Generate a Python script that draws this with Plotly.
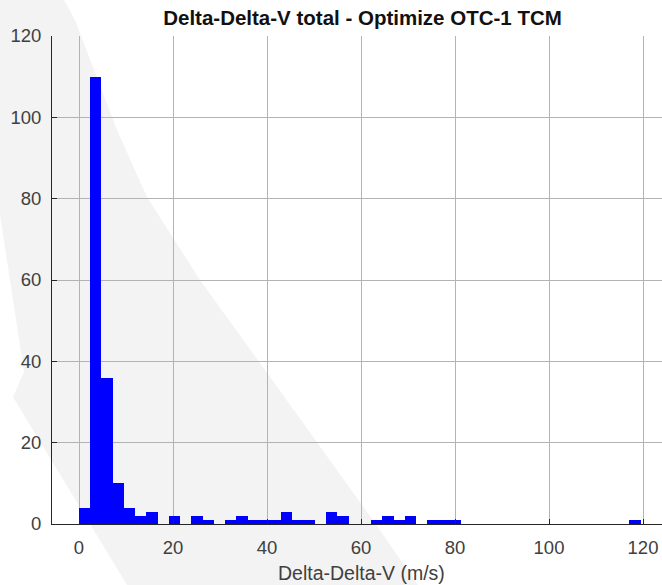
import plotly.graph_objects as go

# Histogram data
bin_start = 0.0
bin_width = 2.39
counts = [4, 110, 36, 10, 4, 2, 3, 0, 2, 0,
          2, 1, 0, 1, 2, 1, 1, 1, 3, 1,
          1, 0, 3, 2, 0, 0, 1, 2, 1, 2,
          0, 1, 1, 1, 0, 0, 0, 0, 0, 0,
          0, 0, 0, 0, 0, 0, 0, 0, 0, 1]
x_ticks = [0, 20, 40, 60, 80, 100, 120]
y_ticks = [0, 20, 40, 60, 80, 100, 120]

title_text = "Delta-Delta-V total - Optimize OTC-1 TCM"
xlabel_text = "Delta-Delta-V (m/s)"

W, H = 662, 585
ML, MR, MT, MB = 52, 0, 36, 61
PW, PH = W - ML - MR, H - MT - MB

lefts = [bin_start + i * bin_width for i in range(len(counts))]

FONT = "Liberation Sans, Arial, Helvetica, sans-serif"

fig = go.Figure()
fig.add_trace(go.Bar(
    x=lefts, y=counts, width=bin_width, offset=0,
    marker=dict(color="#0000ff", line=dict(color="#0000ff", width=0)),
    hoverinfo="skip",
))

# faint diagonal watermark band in the background (pixel outline -> paper coords)
band_px = [(0, 0), (64, 0), (75, 20), (117, 130), (147, 197), (200, 280),
           (260, 363), (375, 523), (418, 585), (127, 585), (13, 397),
           (24, 372), (0, 215)]
def to_paper(px, py):
    return (px - ML) / PW, (H - MB - py) / PH
pts = [to_paper(a, b) for a, b in band_px]
path = "M " + " L ".join(f"{x:.4f},{y:.4f}" for x, y in pts) + " Z"
fig.add_shape(type="path", path=path, xref="paper", yref="paper",
              fillcolor="#f3f3f3", line=dict(width=0), layer="below")

fig.add_annotation(text=xlabel_text, xref="paper", yref="paper",
                   x=(361 - ML) / PW, y=(H - MB - 573) / PH,
                   xanchor="center", yanchor="middle", showarrow=False,
                   font=dict(family=FONT, size=19.5, color="#404040"))

fig.update_layout(
    width=W, height=H,
    margin=dict(l=ML, r=MR, t=MT, b=MB, pad=0),
    paper_bgcolor="white",
    plot_bgcolor="rgba(0,0,0,0)",
    showlegend=False,
    bargap=0,
    title=dict(text="<b>" + title_text + "</b>", x=(362.5 - ML) / PW, xref="paper",
               xanchor="center", y=1 - 18 / H, yref="container", yanchor="middle",
               font=dict(family=FONT, size=20.5, color="#111111")),
    xaxis=dict(range=[(ML - 79) / 4.7, (W - MR - 79) / 4.7],
               tickvals=x_ticks, ticktext=[str(v) for v in x_ticks],
               ticks="inside", ticklen=5, tickcolor="#262626", tickwidth=1,
               showline=True, linecolor="#262626", linewidth=1, mirror=False,
               showgrid=True, gridcolor="#b3b3b3", gridwidth=1,
               zeroline=False, ticklabelstandoff=7,
               tickfont=dict(family=FONT, size=18.5, color="#404040")),
    yaxis=dict(range=[0, 120], tickvals=y_ticks, ticktext=[str(v) for v in y_ticks],
               ticks="inside", ticklen=5, tickcolor="#262626", tickwidth=1,
               showline=True, linecolor="#262626", linewidth=1, mirror=False,
               showgrid=True, gridcolor="#b3b3b3", gridwidth=1,
               zeroline=False, ticklabelstandoff=6,
               tickfont=dict(family=FONT, size=18.5, color="#404040")),
)

fig.write_html("out.html")
